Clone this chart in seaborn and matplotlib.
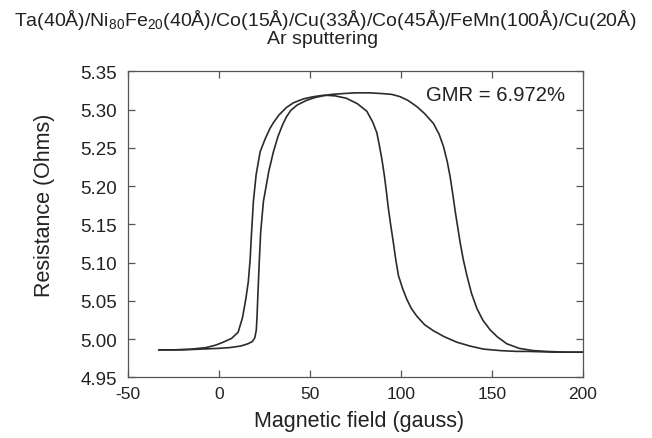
import matplotlib
matplotlib.use("Agg")
import matplotlib.pyplot as plt
import seaborn as sns
import pandas as pd

# ---- data ----
field_up = [-33, -20, -10, 0, 6, 12, 16, 18.5, 19.8, 20.6, 21.0, 21.5, 22.2, 23.0, 24.5,
            27.5, 30, 32.5, 35, 37, 39.5, 43, 48, 53, 57, 62, 68, 75, 83, 90, 95, 99.6,
            104, 108.8, 113, 117.9, 121, 123.4, 125.5, 127.1, 128.5, 129.8, 131.2, 132.6,
            134.3, 136.3, 138.8, 141.8, 145, 149.1, 153, 158.2, 165, 172.9, 180, 190, 200]
res_up = [4.986, 4.986, 4.987, 4.988, 4.989, 4.991, 4.994, 4.997, 5.002, 5.012, 5.030,
          5.060, 5.100, 5.140, 5.180, 5.220, 5.245, 5.265, 5.280, 5.290, 5.299, 5.306,
          5.312, 5.316, 5.318, 5.320, 5.321, 5.322, 5.322, 5.321, 5.320, 5.317, 5.312,
          5.304, 5.295, 5.282, 5.268, 5.252, 5.232, 5.212, 5.190, 5.168, 5.147, 5.126,
          5.104, 5.083, 5.060, 5.040, 5.025, 5.012, 5.003, 4.994, 4.988, 4.985, 4.984,
          4.983, 4.983]

field_down = [200, 185, 170, 163.7, 155, 145.4, 138, 130.8, 124, 117.9, 113, 108.8, 105.8,
              103.3, 101, 98.7, 97.2, 95.9, 94.5, 93.2, 92.1, 91, 89.6, 88.3, 86.8, 84.5,
              81.3, 76, 70, 64, 58, 52, 46.3, 41, 37.2, 33, 30, 28, 25.5, 22.7, 20.5, 19,
              18, 17.2, 16.2, 14.8, 13, 10.6, 7, 2.4, -2, -7, -15, -25, -33]
res_down = [4.983, 4.983, 4.984, 4.984, 4.985, 4.987, 4.991, 4.996, 5.003, 5.011, 5.019,
            5.030, 5.040, 5.052, 5.066, 5.083, 5.104, 5.126, 5.148, 5.170, 5.192, 5.213,
            5.235, 5.252, 5.270, 5.284, 5.298, 5.308, 5.315, 5.318, 5.319, 5.317, 5.314,
            5.309, 5.303, 5.293, 5.283, 5.275, 5.262, 5.245, 5.215, 5.180, 5.140, 5.104,
            5.075, 5.052, 5.028, 5.009, 5.001, 4.996, 4.992, 4.989, 4.987, 4.986, 4.986]

x_ticks = [-50, 0, 50, 100, 150, 200]
y_ticks = [4.95, 5.00, 5.05, 5.10, 5.15, 5.20, 5.25, 5.30, 5.35]

title_line1 = "Ta(40Å)/Ni$_\\mathregular{80}$Fe$_\\mathregular{20}$(40Å)/Co(15Å)/Cu(33Å)/Co(45Å)/FeMn(100Å)/Cu(20Å)"
title_line2 = "Ar sputtering"
gmr_text = "GMR = 6.972%"

# ---- styling ----
sns.set_theme(style="ticks")
plt.rcParams["font.family"] = ["Liberation Sans", "DejaVu Sans"]
plt.rcParams["mathtext.fontset"] = "custom"
plt.rcParams["mathtext.rm"] = "Liberation Sans"
plt.rcParams["mathtext.it"] = "Liberation Sans:italic"
plt.rcParams["mathtext.bf"] = "Liberation Sans:bold"

df = pd.concat([
    pd.DataFrame({"field": field_up, "res": res_up, "branch": "up"}),
    pd.DataFrame({"field": field_down, "res": res_down, "branch": "down"}),
], ignore_index=True)

fig = plt.figure(figsize=(6.52, 4.39), dpi=100)
ax = fig.add_axes([0.196, 0.138, 0.698, 0.697])

line_color = "#2b2b2b"
for b in ["up", "down"]:
    sub = df[df["branch"] == b]
    sns.lineplot(data=sub, x="field", y="res", sort=False, estimator=None,
                 color=line_color, linewidth=1.2, ax=ax)

ax.set_xlim(-50, 200)
ax.set_ylim(4.95, 5.35)
ax.set_xticks(x_ticks)
ax.set_xticklabels([str(v) for v in x_ticks])
ax.set_yticks(y_ticks)
ax.set_yticklabels([f"{v:.2f}" for v in y_ticks])
ax.tick_params(axis="both", direction="in", length=5, width=0.9, color="#555555",
               labelcolor="#222222", top=True, right=True)
ax.tick_params(axis="x", pad=6, labelsize=12.5)
ax.tick_params(axis="y", pad=8, labelsize=13.5)
for s in ax.spines.values():
    s.set_visible(True)
    s.set_color("#555555")
    s.set_linewidth(0.9)

ax.set_xlabel("Magnetic field (gauss)", fontsize=15.5, color="#222222")
ax.set_ylabel("Resistance (Ohms)", fontsize=15.5, color="#222222")
ax.xaxis.set_label_coords(0.508, -0.107)
ax.yaxis.set_label_coords(-0.160, 0.566)

ax.text(0.961, 0.923, gmr_text, transform=ax.transAxes, ha="right", va="center",
        fontsize=14.6, color="#222222")

fig.text(0.5, 1 - 20 / 439, title_line1, ha="center", va="center", fontsize=14, color="#222222")
fig.text(0.495, 1 - 40 / 439, title_line2, ha="center", va="center", fontsize=14, color="#222222")

fig.savefig("out.png", dpi=100)
